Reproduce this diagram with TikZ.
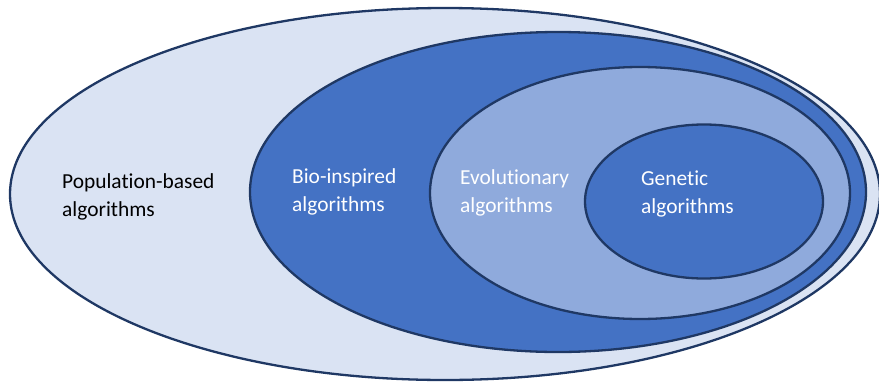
\documentclass[tikz,border=0pt]{standalone}
\usepackage{fontspec}
\setmainfont[Ligatures={NoCommon}]{Carlito}
\usetikzlibrary{shapes.geometric}
\definecolor{lightfill}{HTML}{DAE3F3}
\definecolor{midfill}{HTML}{4472C4}
\definecolor{palefill}{HTML}{8FAADC}
\definecolor{edgecol}{HTML}{1F3864}
\tikzset{
  setbox/.style={ellipse, draw=edgecol, line width=2.3pt, inner sep=0pt},
  setlabel/.style={anchor=west, align=left, inner sep=0pt, font=\fontsize{21.4}{28}\selectfont},
}
\begin{document}
\begin{tikzpicture}[x=1pt,y=-1pt]
\useasboundingbox (0,0) rectangle (879,381);
\node[setbox, fill=lightfill, minimum width=870pt, minimum height=372pt] (pop) at (445,194) {};
\node[setbox, fill=midfill, minimum width=616pt, minimum height=320pt] (bio) at (558,192) {};
\node[setbox, fill=palefill, minimum width=420pt, minimum height=252pt] (evo) at (640,193) {};
\node[setbox, fill=midfill, minimum width=238pt, minimum height=154pt] (gen) at (704,201.5) {};
\node[setlabel, text=black] (poplabel) at (62,197) {Population-based\\algorithms};
\node[setlabel, text=white] (biolabel) at (292,192) {Bio-inspired\\algorithms};
\node[setlabel, text=white] (evolabel) at (460,193) {Evolutionary\\algorithms};
\node[setlabel, text=white] (genlabel) at (641,194) {Genetic\\algorithms};
\end{tikzpicture}
\end{document}
